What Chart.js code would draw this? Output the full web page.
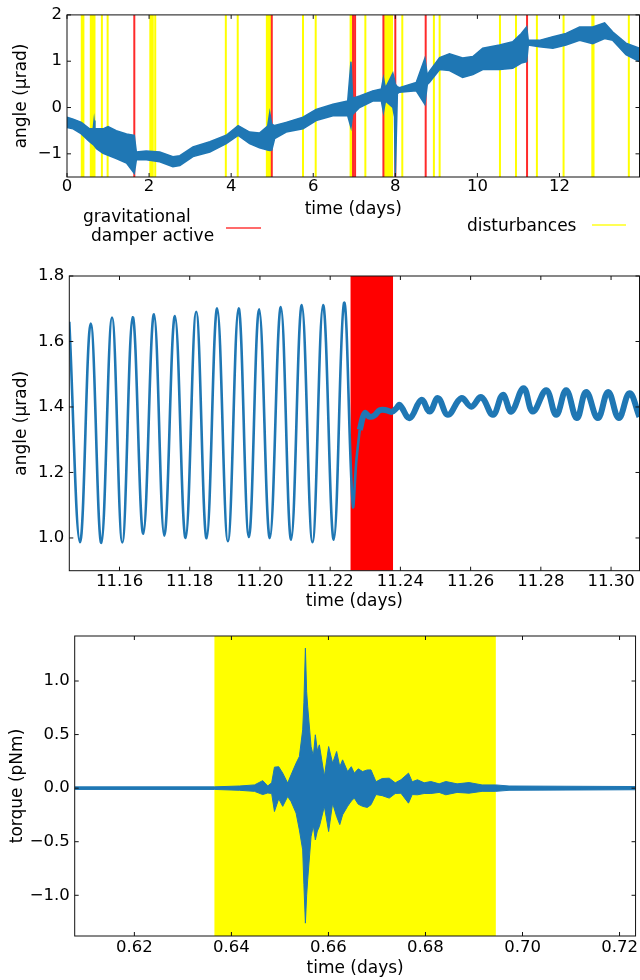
<!DOCTYPE html>
<html>
<head>
<meta charset="utf-8">
<script src="https://cdn.jsdelivr.net/npm/chart.js@4.4.1/dist/chart.umd.min.js"></script>
<style>
  body { margin: 0; width: 640px; height: 980px; position: relative; background: #fff; overflow: hidden; font-family: "DejaVu Sans", sans-serif; }
  canvas { position: absolute; left: 0; }
  .lbl { position: absolute; font-size: 17px; line-height: 20px; color: #000; white-space: nowrap; z-index: 2; }
  .key { position: absolute; height: 2px; z-index: 2; }
</style>
</head>
<body>
<canvas id="c1" width="640" height="224" style="top:0"></canvas>
<canvas id="c2" width="640" height="356" style="top:260px"></canvas>
<canvas id="c3" width="640" height="360" style="top:620px"></canvas>

<div class="lbl" style="left:83px;top:206px">gravitational</div>
<div class="lbl" style="left:91px;top:225px">damper active</div>
<div class="key" style="left:226px;top:227px;width:35px;background:#ff6b6b"></div>
<div class="lbl" style="left:467px;top:215px">disturbances</div>
<div class="key" style="left:592px;top:224px;width:34px;background:#ffff55"></div>

<script>
// ---- panel 1: whole run (days) ----
const p1Time = [0, 0.15, 0.35, 0.55, 0.64, 0.66, 0.68, 0.72, 0.88, 1.0, 1.2, 1.45, 1.64, 1.69, 1.93, 2.26, 2.58, 2.75, 3.07, 3.48, 3.88, 4.17, 4.45, 4.69, 4.89, 4.94, 4.99, 5.06, 5.34, 5.75, 6.07, 6.48, 6.84, 6.92, 6.96, 7.13, 7.45, 7.66, 7.71, 7.76, 7.94, 7.98, 8.0, 8.05, 8.1, 8.51, 8.72, 8.78, 8.83, 9.08, 9.32, 9.64, 9.89, 10.13, 10.54, 10.86, 11.07, 11.2, 11.24, 11.51, 11.84, 12.16, 12.49, 12.81, 13.1, 13.3, 13.62, 13.95];
const p1Upper = [-0.21, -0.25, -0.32, -0.46, -0.45, -0.28, -0.46, -0.46, -0.46, -0.41, -0.50, -0.57, -0.60, -0.96, -0.94, -0.96, -1.06, -1.04, -0.85, -0.74, -0.60, -0.39, -0.53, -0.55, -0.40, -0.11, -0.36, -0.39, -0.32, -0.21, -0.04, 0.07, 0.14, 0.99, 0.20, 0.25, 0.36, 0.40, 0.64, 0.42, 0.74, 0.60, 0.50, 0.45, 0.43, 0.54, 1.06, 0.70, 0.78, 1.08, 1.16, 1.07, 1.10, 1.28, 1.35, 1.42, 1.60, 1.74, 1.45, 1.45, 1.53, 1.60, 1.74, 1.74, 1.83, 1.63, 1.39, 1.28];
const p1Lower = [-0.43, -0.46, -0.57, -0.74, -0.80, -0.82, -0.84, -0.89, -0.99, -1.03, -1.10, -1.20, -1.42, -1.13, -1.13, -1.17, -1.28, -1.25, -1.06, -0.96, -0.78, -0.60, -0.78, -0.87, -0.92, -0.93, -0.92, -0.67, -0.53, -0.46, -0.28, -0.18, -0.18, -0.43, -0.15, 0.00, 0.14, 0.14, -0.10, 0.14, 0.00, -0.20, -1.49, 0.30, 0.33, 0.36, 0.07, 0.50, 0.54, 0.82, 0.80, 0.65, 0.71, 0.82, 0.82, 0.85, 0.96, 0.99, 1.35, 1.31, 1.28, 1.35, 1.45, 1.38, 1.49, 1.45, 1.14, 0.99];
const p1Damper = [1.64, 4.99, 6.97, 7.02, 7.71, 8.0, 8.74, 11.21];
const p1Disturb = [0.36, 0.40, 0.58, 0.61, 0.64, 0.67, 0.85, 0.99, 2.03, 2.06, 2.09, 2.15, 3.87, 4.16, 4.87, 4.91, 4.95, 5.75, 6.06, 6.91, 6.94, 7.27, 7.75, 7.79, 7.83, 7.87, 7.92, 8.17, 8.94, 9.08, 10.55, 10.94, 11.45, 12.10, 12.80, 12.83, 13.69];
const p1XTicks = [0, 2, 4, 6, 8, 10, 12];
const p1XLabels = ['0', '2', '4', '6', '8', '10', '12'];
const p1YTicks = [-1, 0, 1, 2];
const p1YLabels = ['\u22121', '0', '1', '2'];

// ---- panel 2: zoom on the damper switch ----
const p2TimeA = [11.1457, 11.14876, 11.15181, 11.15482, 11.15787, 11.1608, 11.16376, 11.16677, 11.16982, 11.17275, 11.17579, 11.17883, 11.18185, 11.18481, 11.18782, 11.19087, 11.19391, 11.19684, 11.19977, 11.20282, 11.20595, 11.20888, 11.21192, 11.21496, 11.21798, 11.22102, 11.22395, 11.22643, 11.22748, 11.22842];
const p2AngleA = [1.66, 0.987, 1.655, 0.985, 1.673, 0.986, 1.674, 1.013, 1.683, 1.007, 1.678, 1.0, 1.691, 0.999, 1.701, 0.99, 1.701, 1.003, 1.698, 1.0, 1.705, 0.995, 1.711, 0.987, 1.711, 0.995, 1.718, 1.10, 1.239, 1.33];
const p2TimeB = [11.22842, 11.22984, 11.23127, 11.23269, 11.23411, 11.23602, 11.23752, 11.23886, 11.2398, 11.24264, 11.24597, 11.24834, 11.2507, 11.25354, 11.25735, 11.2602, 11.26304, 11.26634, 11.26919, 11.27158, 11.27508, 11.27773, 11.28154, 11.28438, 11.28723, 11.29024, 11.29291, 11.29622, 11.29918, 11.30219, 11.30524, 11.30808];
const p2AngleB = [1.33, 1.381, 1.37, 1.375, 1.39, 1.39, 1.385, 1.396, 1.406, 1.366, 1.422, 1.386, 1.427, 1.376, 1.427, 1.401, 1.43, 1.376, 1.437, 1.386, 1.457, 1.386, 1.451, 1.376, 1.451, 1.366, 1.446, 1.366, 1.446, 1.366, 1.442, 1.37];
const p2DamperSpan = [11.2258, 11.2379];
const p2XTicks = [11.16, 11.18, 11.20, 11.22, 11.24, 11.26, 11.28, 11.30];
const p2XLabels = ['11.16', '11.18', '11.20', '11.22', '11.24', '11.26', '11.28', '11.30'];
const p2YTicks = [1.0, 1.2, 1.4, 1.6, 1.8];
const p2YLabels = ['1.0', '1.2', '1.4', '1.6', '1.8'];

// ---- panel 3: torque during one disturbance ----
const p3Time = [0.60765, 0.63652, 0.64167, 0.64475, 0.64646, 0.64749, 0.6483, 0.64887, 0.64975, 0.65058, 0.6516, 0.6523, 0.65333, 0.65401, 0.65469, 0.65494, 0.65525, 0.65551, 0.65572, 0.65642, 0.65689, 0.6573, 0.65771, 0.65813, 0.65916, 0.66004, 0.66086, 0.66169, 0.66234, 0.66292, 0.66395, 0.66471, 0.66533, 0.66615, 0.66704, 0.66801, 0.66877, 0.6698, 0.67109, 0.67253, 0.67377, 0.67494, 0.6765, 0.67726, 0.67835, 0.67973, 0.68111, 0.68282, 0.68419, 0.68652, 0.68899, 0.69167, 0.69449, 0.69722, 0.72329];
const p3Upper = [0.012, 0.012, 0.02, 0.03, 0.07, 0.02, 0.05, 0.196, 0.20, 0.14, 0.047, 0.124, 0.233, 0.295, 0.544, 0.8, 1.307, 0.9, 0.762, 0.388, 0.3, 0.498, 0.35, 0.404, 0.109, 0.388, 0.233, 0.342, 0.2, 0.264, 0.155, 0.2, 0.14, 0.18, 0.155, 0.17, 0.17, 0.06, 0.09, 0.093, 0.05, 0.078, 0.14, 0.06, 0.078, 0.05, 0.062, 0.04, 0.062, 0.04, 0.052, 0.03, 0.03, 0.02, 0.015];
const p3Lower = [-0.012, -0.012, -0.02, -0.03, -0.06, -0.045, -0.05, -0.218, -0.10, -0.17, -0.078, -0.125, -0.233, -0.39, -0.576, -0.9, -1.26, -1.0, -0.856, -0.452, -0.35, -0.483, -0.4, -0.358, -0.17, -0.405, -0.14, -0.265, -0.34, -0.249, -0.17, -0.12, -0.093, -0.15, -0.17, -0.18, -0.155, -0.06, -0.07, -0.093, -0.05, -0.047, -0.14, -0.06, -0.062, -0.05, -0.05, -0.04, -0.062, -0.04, -0.047, -0.03, -0.03, -0.02, -0.015];
const p3DisturbSpan = [0.6365, 0.6945];
const p3XTicks = [0.62, 0.64, 0.66, 0.68, 0.70, 0.72];
const p3XLabels = ['0.62', '0.64', '0.66', '0.68', '0.70', '0.72'];
const p3YTicks = [-1.0, -0.5, 0.0, 0.5, 1.0];
const p3YLabels = ['\u22121.0', '\u22120.5', '0.0', '0.5', '1.0'];

const BLUE = '#1f77b4';
Chart.defaults.font.family = '"DejaVu Sans", sans-serif';
Chart.defaults.font.size = 16.5;
Chart.defaults.color = '#000';

const pts = (xs, ys) => xs.map((x, i) => ({ x, y: ys[i] }));

function vlines(ctx, a, x, g) {
  ctx.strokeStyle = g.color;
  ctx.lineWidth = g.width;
  ctx.beginPath();
  g.xs.forEach(v => {
    const p = x.getPixelForValue(v);
    ctx.moveTo(p, a.top);
    ctx.lineTo(p, a.bottom);
  });
  ctx.stroke();
}

// spans + vertical markers behind the data, frame with inward ticks on top
const framePlugin = {
  id: 'frame',
  beforeDatasetsDraw(chart, args, o) {
    const { ctx, chartArea: a, scales: { x } } = chart;
    ctx.save();
    ctx.beginPath();
    ctx.rect(a.left, a.top, a.right - a.left, a.bottom - a.top);
    ctx.clip();
    (o.spans || []).forEach(s => {
      const x0 = x.getPixelForValue(s.range[0]);
      const x1 = x.getPixelForValue(s.range[1]);
      ctx.fillStyle = s.color;
      ctx.fillRect(x0, a.top, x1 - x0, a.bottom - a.top);
    });
    (o.lines || []).forEach(g => vlines(ctx, a, x, g));
    ctx.restore();
  },
  afterDatasetsDraw(chart) {
    const { ctx, chartArea: a, scales: { x, y } } = chart;
    ctx.save();
    ctx.strokeStyle = '#111';
    ctx.lineWidth = 1;
    ctx.strokeRect(a.left, a.top, a.right - a.left, a.bottom - a.top);
    ctx.beginPath();
    x.ticks.forEach(t => {
      const p = x.getPixelForValue(t.value);
      ctx.moveTo(p, a.bottom); ctx.lineTo(p, a.bottom - 4);
      ctx.moveTo(p, a.top); ctx.lineTo(p, a.top + 4);
    });
    y.ticks.forEach(t => {
      const p = y.getPixelForValue(t.value);
      ctx.moveTo(a.left, p); ctx.lineTo(a.left + 4, p);
      ctx.moveTo(a.right, p); ctx.lineTo(a.right - 4, p);
    });
    ctx.stroke();
    ctx.restore();
  }
};

function makeChart(id, box, datasets, sc, frame) {
  const cv = document.getElementById(id);
  return new Chart(cv, {
    type: 'line',
    data: { datasets },
    options: {
      responsive: false,
      animation: false,
      devicePixelRatio: 1,
      layout: { padding: { left: 0, top: box.top, right: cv.width - box.right, bottom: 0 } },
      elements: { point: { radius: 0 } },
      plugins: { legend: { display: false }, tooltip: { enabled: false }, frame },
      scales: {
        x: {
          type: 'linear', min: sc.xMin, max: sc.xMax,
          grid: { display: false, drawTicks: false }, border: { display: false },
          afterBuildTicks: s => { s.ticks = sc.xTicks.map(v => ({ value: v })); },
          afterFit: s => { s.height = cv.height - box.bottom; },
          ticks: { padding: sc.xPad, maxRotation: 0, autoSkip: false, callback: (v, i) => sc.xLabels[i] },
          title: { display: true, text: 'time (days)', font: { size: 17 }, padding: { top: 0, bottom: sc.xTitlePad } }
        },
        y: {
          type: 'linear', min: sc.yMin, max: sc.yMax,
          grid: { display: false, drawTicks: false }, border: { display: false },
          afterBuildTicks: s => { s.ticks = sc.yTicks.map(v => ({ value: v })); },
          afterFit: s => { s.width = box.left; },
          ticks: { padding: 5, autoSkip: false, callback: (v, i) => sc.yLabels[i] },
          title: { display: true, text: sc.yTitle, font: { size: 17 }, padding: { top: sc.yTitlePad, bottom: 0 } }
        }
      }
    },
    plugins: [framePlugin]
  });
}

makeChart('c1', { left: 67, top: 13, right: 639.5, bottom: 177 }, [
  { data: pts(p1Time, p1Upper), borderColor: BLUE, backgroundColor: BLUE, borderWidth: 1.5, fill: '+1' },
  { data: pts(p1Time, p1Lower), borderColor: BLUE, backgroundColor: BLUE, borderWidth: 1.5, fill: false }
], {
  xMin: 0, xMax: 13.95, yMin: -1.5, yMax: 2,
  xTicks: p1XTicks, xLabels: p1XLabels, yTicks: p1YTicks, yLabels: p1YLabels,
  xPad: 0, xTitlePad: 4, yTitle: 'angle (\u03bcrad)', yTitlePad: 11
}, {
  lines: [
    { xs: p1Disturb, color: '#ffff00', width: 2 },
    { xs: p1Damper, color: '#ff2a2a', width: 2 }
  ]
});

makeChart('c2', { left: 69.3, top: 16, right: 639.5, bottom: 310.7 }, [
  { data: pts(p2TimeA, p2AngleA), borderColor: BLUE, borderWidth: 2.6, fill: false, tension: 0.4 },
  { data: pts(p2TimeB, p2AngleB), borderColor: BLUE, borderWidth: 6, fill: false, tension: 0.4 }
], {
  xMin: 11.1457, xMax: 11.3081, yMin: 0.9, yMax: 1.8,
  xTicks: p2XTicks, xLabels: p2XLabels, yTicks: p2YTicks, yLabels: p2YLabels,
  xPad: 1, xTitlePad: 4, yTitle: 'angle (\u03bcrad)', yTitlePad: 11
}, {
  spans: [{ range: p2DamperSpan, color: '#ff0000' }]
});

makeChart('c3', { left: 74.7, top: 16, right: 636.7, bottom: 316 }, [
  { data: pts(p3Time, p3Upper), borderColor: BLUE, backgroundColor: BLUE, borderWidth: 1, fill: '+1' },
  { data: pts(p3Time, p3Lower), borderColor: BLUE, backgroundColor: BLUE, borderWidth: 1, fill: false }
], {
  xMin: 0.6077, xMax: 0.7233, yMin: -1.38, yMax: 1.42,
  xTicks: p3XTicks, xLabels: p3XLabels, yTicks: p3YTicks, yLabels: p3YLabels,
  xPad: 2, xTitlePad: 1, yTitle: 'torque (pNm)', yTitlePad: 7
}, {
  spans: [{ range: p3DisturbSpan, color: '#ffff00' }]
});
</script>
</body>
</html>
